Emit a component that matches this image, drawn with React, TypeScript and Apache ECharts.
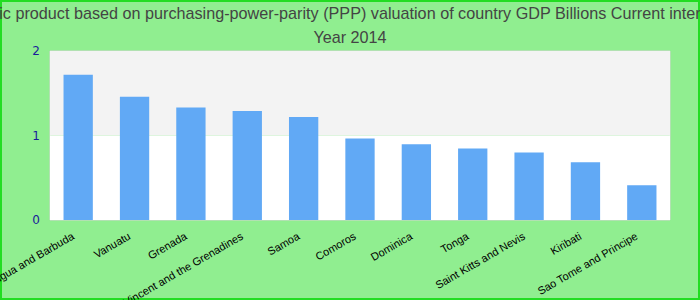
import React, { useEffect, useRef } from "react";
import * as echarts from "echarts";

const titleLine1 =
  "Gross domestic product based on purchasing-power-parity (PPP) valuation of country GDP Billions Current international dollar";
const titleLine2 = "Year 2014";

const countries = [
  "Antigua and Barbuda",
  "Vanuatu",
  "Grenada",
  "Saint Vincent and the Grenadines",
  "Samoa",
  "Comoros",
  "Dominica",
  "Tonga",
  "Saint Kitts and Nevis",
  "Kiribati",
  "Sao Tome and Principe",
];

const gdpValues = [1.72, 1.46, 1.33, 1.29, 1.22, 0.965, 0.895, 0.847, 0.8, 0.682, 0.41];

const yTicks = [0, 1, 2];

export default function App() {
  const ref = useRef<HTMLDivElement>(null);
  useEffect(() => {
    if (!ref.current) return;
    const chart = echarts.init(ref.current, undefined, { renderer: "svg" });
    chart.setOption({
      animation: false,
      backgroundColor: "#90EE90",
      title: {
        text: titleLine1 + "\n" + titleLine2,
        left: "center",
        top: -4,
        textStyle: {
          fontFamily: "Liberation Sans, Arial, sans-serif",
          fontSize: 16.2,
          fontWeight: "normal",
          color: "#444",
          lineHeight: 24,
        },
      },
      graphic: [
        {
          type: "rect",
          shape: { x: 1, y: 1, width: 698, height: 298 },
          style: { fill: "none", stroke: "#22dd22", lineWidth: 2 },
          silent: true,
        },
      ],
      grid: {
        left: 50,
        right: 30,
        top: 51,
        bottom: 80,
        outerBoundsMode: "none",
        containLabel: false,
        show: true,
        borderColor: "#d4d4d4",
        borderWidth: 1,
        backgroundColor: "transparent",
      },
      xAxis: {
        type: "category",
        data: countries,
        axisLine: { show: false },
        axisTick: { show: false },
        axisLabel: {
          interval: 0,
          rotate: 30,
          fontSize: 11,
          color: "#000",
          fontFamily: "Liberation Sans, Arial, sans-serif",
          margin: 12,
          padding: [0, 6, 0, 0],
        },
      },
      yAxis: {
        type: "value",
        min: yTicks[0],
        max: yTicks[yTicks.length - 1],
        interval: 1,
        axisLine: { show: false },
        axisTick: { show: false },
        splitLine: { show: false },
        splitArea: { show: true, areaStyle: { color: ["#ffffff", "#f3f3f3"] } },
        axisLabel: {
          color: "#1a1a9a",
          fontSize: 12,
          fontFamily: "DejaVu Sans, sans-serif",
          margin: 10,
        },
      },
      series: [
        {
          type: "bar",
          data: gdpValues,
          barWidth: "52%",
          itemStyle: { color: "#61a9f5" },
        },
      ],
    });
    return () => chart.dispose();
  }, []);
  return (
    <div
      ref={ref}
      style={{ position: "absolute", left: 0, top: 0, width: 700, height: 300 }}
    />
  );
}
